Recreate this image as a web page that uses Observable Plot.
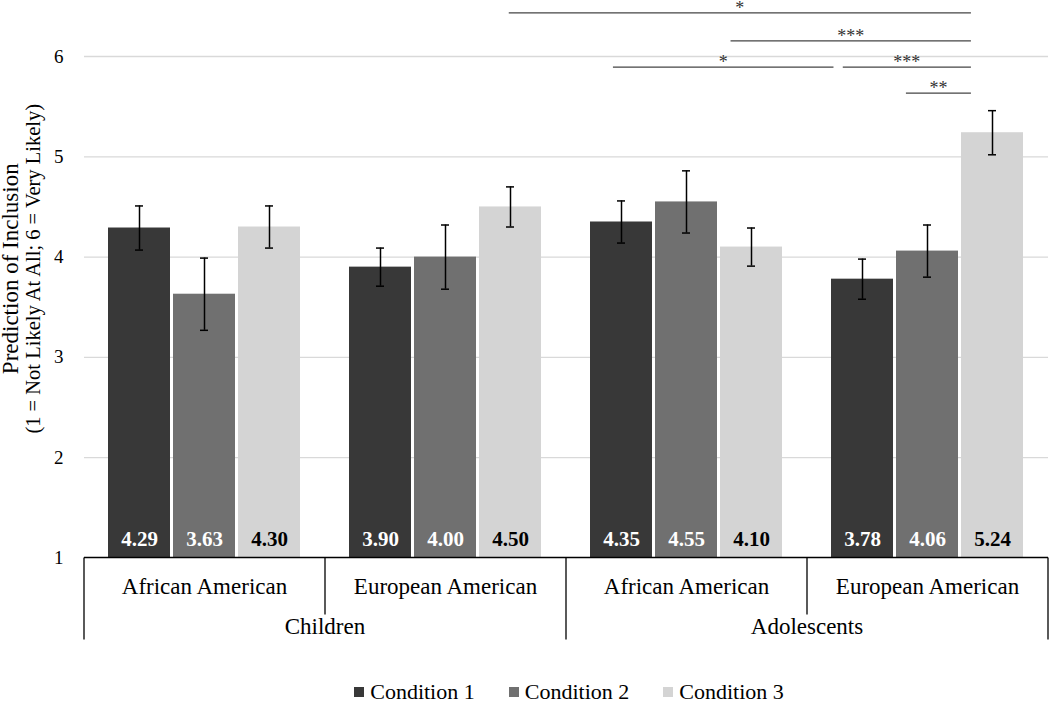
<!DOCTYPE html>
<html><head><meta charset="utf-8">
<script src="https://cdn.jsdelivr.net/npm/d3@7"></script>
<script src="https://cdn.jsdelivr.net/npm/@observablehq/plot@0.6"></script>
<style>
body{margin:0;background:#fff;font-family:"Liberation Serif",serif;overflow:hidden;}
#legend{display:flex;justify-content:center;gap:34px;padding-left:90px;padding-right:2px;font-size:22px;line-height:18px;height:18px;color:#000;}
.item{display:flex;align-items:center;}
.sw{width:10px;height:10px;margin-right:6px;display:inline-block;}
</style></head><body>
<div id="chart"></div><div id="legend"></div>
<script>
// ---- data ----
const ages = ["Children", "Adolescents"];
const ethnicities = ["African American", "European American"];
const conditions = ["Condition 1", "Condition 2", "Condition 3"];
const conditionColors = ["#383838", "#707070", "#d4d4d4"];
const labelColors = ["#ffffff", "#ffffff", "#000000"];
const childrenAfricanMeans = [4.29, 3.63, 4.30];
const childrenEuropeanMeans = [3.90, 4.00, 4.50];
const adolescentAfricanMeans = [4.35, 4.55, 4.10];
const adolescentEuropeanMeans = [3.78, 4.06, 5.24];
const childrenAfricanErrors = [0.22, 0.36, 0.21];
const childrenEuropeanErrors = [0.19, 0.32, 0.20];
const adolescentAfricanErrors = [0.21, 0.31, 0.19];
const adolescentEuropeanErrors = [0.20, 0.26, 0.22];
const yTicks = [1, 2, 3, 4, 5, 6];
const yTitle = "Prediction of Inclusion";
const ySubtitle = "(1 = Not Likely At All; 6 = Very Likely)";
// significance brackets: [group index, condition index, fraction across bar]
const sigLabels = ["*", "***", "*", "***", "**"];
const sigLevels = [6.43, 6.15, 5.89, 5.89, 5.63];
const sigFrom = [[1, 2, 0.48], [2, 2, 0.17], [2, 0, 0.37], [3, 0, 0.19], [3, 1, 0.16]];
const sigTo = [[3, 2, 0.16], [3, 2, 0.16], [3, 0, 0.04], [3, 2, 0.16], [3, 2, 0.16]];

// ---- table ----
const meansByGroup = [childrenAfricanMeans, childrenEuropeanMeans, adolescentAfricanMeans, adolescentEuropeanMeans];
const errorsByGroup = [childrenAfricanErrors, childrenEuropeanErrors, adolescentAfricanErrors, adolescentEuropeanErrors];
const groupKeys = [];
const groupAge = {}, groupEth = {};
ages.forEach(a => ethnicities.forEach(e => {
  const k = a + " | " + e; groupKeys.push(k); groupAge[k] = a; groupEth[k] = e;
}));
const rows = [];
groupKeys.forEach((k, gi) => conditions.forEach((c, ci) => {
  rows.push({group: k, cond: c, ci, mean: meansByGroup[gi][ci], err: errorsByGroup[gi][ci]});
}));
const yMin = yTicks[0], yMax = yTicks[yTicks.length - 1];
const fmt = d3.format(".2f");
const font = "Liberation Serif";

function overlay(index, scales, values, dims) {
  const {fx, x, y} = scales;
  const x0 = x.range()[0];
  const bw = x.bandwidth();
  const fbw = fx.bandwidth();
  const pos = ([gi, ci, f]) => fx(groupKeys[gi]) + x(conditions[ci]) - x0 + f * bw;
  const g = d3.create("svg:g").attr("font-family", font);
  const base = y(yMin);
  const left = fx(groupKeys[0]);
  const right = fx(groupKeys[groupKeys.length - 1]) + fbw;
  const line = (x1, y1, x2, y2, stroke, w) => g.append("line")
    .attr("x1", x1).attr("y1", y1).attr("x2", x2).attr("y2", y2)
    .attr("stroke", stroke).attr("stroke-width", w);
  line(left, base, right, base, "#000", 1.3);
  groupKeys.forEach((k, i) => {
    const xl = fx(k);
    const long = i % ethnicities.length === 0;
    line(xl, base, xl, base + (long ? 82 : 57), "#000", 1.3);
    g.append("text").attr("x", xl + fbw / 2).attr("y", base + 36.5)
      .attr("text-anchor", "middle").attr("font-size", 23).attr("fill", "#000")
      .text(groupEth[k]);
  });
  line(right, base, right, base + 82, "#000", 1.3);
  ages.forEach(a => {
    const ks = groupKeys.filter(k => groupAge[k] === a);
    const cx = (fx(ks[0]) + fx(ks[ks.length - 1]) + fbw) / 2;
    g.append("text").attr("x", cx).attr("y", base + 76)
      .attr("text-anchor", "middle").attr("font-size", 23).attr("fill", "#000").text(a);
  });
  sigLabels.forEach((lab, i) => {
    const xa = pos(sigFrom[i]), xb = pos(sigTo[i]);
    const yy = y(sigLevels[i]);
    line(xa, yy, xb, yy, "#444", 1.3);
    g.append("text").attr("x", (xa + xb) / 2).attr("y", yy + 1)
      .attr("text-anchor", "middle").attr("font-size", 18).attr("fill", "#333").text(lab);
  });
  // y-axis title (two lines, rotated)
  const cy = (y(yMin) + y(yMax)) / 2 - 38;
  g.append("text").attr("transform", `translate(${left - 66},${cy}) rotate(-90)`)
    .attr("text-anchor", "middle").attr("font-size", 23).attr("fill", "#000").text(yTitle);
  g.append("text").attr("transform", `translate(${left - 44},${cy}) rotate(-90)`)
    .attr("text-anchor", "middle").attr("font-size", 20.5).attr("fill", "#000").text(ySubtitle);
  return g.node();
}

const marks = [
  Plot.ruleY(yTicks.slice(1), {stroke: "#d9d9d9", strokeWidth: 1.3}),
  Plot.barY(rows, {fx: "group", x: "cond", y1: yMin, y2: "mean", fill: "cond"}),
  Plot.ruleX(rows, {fx: "group", x: "cond", y1: d => d.mean - d.err, y2: d => d.mean + d.err, stroke: "#000", strokeWidth: 1.5}),
  Plot.tickY(rows, {fx: "group", x: "cond", y: d => d.mean + d.err, insetLeft: 27, insetRight: 27, stroke: "#000", strokeWidth: 1.5}),
  Plot.tickY(rows, {fx: "group", x: "cond", y: d => d.mean - d.err, insetLeft: 27, insetRight: 27, stroke: "#000", strokeWidth: 1.5}),
  ...conditions.map((c, ci) => Plot.text(rows, {
    filter: d => d.ci === ci, fx: "group", x: "cond", frameAnchor: "bottom",
    text: d => fmt(d.mean), lineAnchor: "bottom", dy: -12.5,
    fill: labelColors[ci], fontSize: 21, fontWeight: "bold"
  })),
  Plot.axisY({ticks: yTicks, tickSize: 0, tickPadding: 21, tickFormat: "d", label: null, fontSize: 19, anchor: "left"}),
  Plot.frame({facet: "super", stroke: "none", render: overlay})
];

const chart = Plot.plot({
  width: 1050, height: 683,
  marginTop: 56, marginBottom: 125.5, marginLeft: 84, marginRight: 2,
  style: {fontFamily: font, fontSize: "19px", color: "#000", background: "#fff", overflow: "visible"},
  fx: {domain: groupKeys, paddingInner: 0, paddingOuter: 0, axis: null, label: null},
  x: {domain: conditions, paddingInner: 0.041, paddingOuter: 0.363, axis: null, label: null},
  y: {domain: [yMin, yMax], axis: null},
  color: {domain: conditions, range: conditionColors},
  marks
});
document.getElementById("chart").appendChild(chart);

const legend = document.getElementById("legend");
conditions.forEach((c, i) => {
  const item = document.createElement("div"); item.className = "item";
  const sw = document.createElement("span"); sw.className = "sw"; sw.style.background = conditionColors[i];
  item.appendChild(sw); item.appendChild(document.createTextNode(c));
  legend.appendChild(item);
});
</script></body></html>
